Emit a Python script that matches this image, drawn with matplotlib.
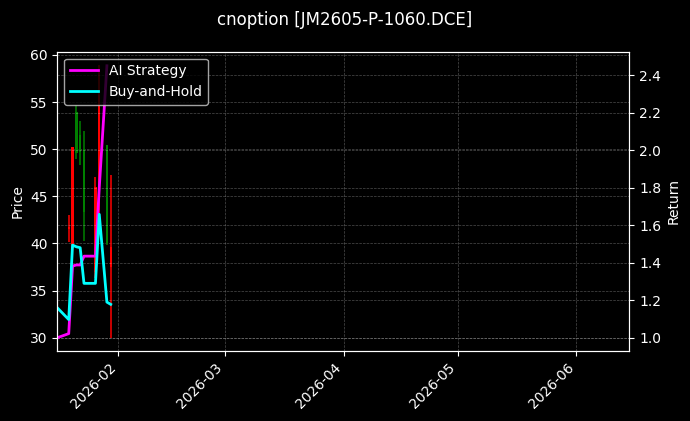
import numpy as np
import pandas as pd
import matplotlib
matplotlib.use("Agg")
import matplotlib.pyplot as plt
import matplotlib.dates as mdates

nan = np.nan
dates = ['2026-01-16', '2026-01-19', '2026-01-20', '2026-01-21', '2026-01-22',
         '2026-01-23', '2026-01-26', '2026-01-27', '2026-01-29', '2026-01-30']
open_ = [nan, 41.5, 39.8, 54.0, 51.5, 50.0, 37.0, 43.5, 50.4, 37.5]
high = [nan, 43.0, 50.2, 54.7, 53.0, 51.9, 47.0, 58.9, 50.4, 47.3]
low = [nan, 40.2, 39.5, 49.0, 48.3, 40.3, 36.3, 43.0, 39.8, 30.0]
close = [nan, 41.7, 50.2, 49.6, 49.7, 43.3, 46.0, 55.8, 40.0, 39.6]
strategy = [1.0, 1.022, 1.382, 1.388, 1.388, 1.435, 1.435, 1.80, 2.45, nan]
buy_hold = [1.16, 1.097, 1.494, 1.485, 1.48, 1.29, 1.29, 1.658, 1.19, 1.178]
x_range = ['2026-01-16', '2026-06-14 20:00']
title = 'cnoption [JM2605-P-1060.DCE]'

plt.style.use('dark_background')
d = pd.to_datetime(dates)
o = np.array(open_); h = np.array(high); l = np.array(low); c = np.array(close)
up = c >= o
colors = np.where(up, 'red', 'green')

fig = plt.figure(figsize=(6.9, 4.21), dpi=100)
ax = fig.add_axes([0.0830, 0.1670, 0.8290, 0.7102])

ax.vlines(d, l, h, colors=colors, linewidth=1.1, zorder=2)
ax.bar(d, np.abs(c - o), bottom=np.minimum(o, c), width=0.6, color=colors, zorder=2)
ax.set_ylabel('Price')
ax.set_ylim(28.62, 60.35)
ax.grid(True, linestyle='--', linewidth=0.5, alpha=0.3)

ax2 = ax.twinx()
ax2.plot(d, strategy, color='magenta', linewidth=2, label='AI Strategy')
ax2.plot(d, buy_hold, color='cyan', linewidth=2, label='Buy-and-Hold')
ax2.set_ylabel('Return')
ax2.set_ylim(0.931, 2.525)
ax2.grid(True, linestyle='--', linewidth=0.5, alpha=0.3)
ax2.legend(loc='upper left')

ax.set_xlim(pd.to_datetime(x_range[0]), pd.to_datetime(x_range[1]))
ax.xaxis.set_major_locator(mdates.MonthLocator())
ax.xaxis.set_major_formatter(mdates.DateFormatter('%Y-%m'))
for lab in ax.get_xticklabels():
    lab.set_rotation(45)
    lab.set_ha('right')

fig.suptitle(title, fontsize=12, y=0.975)
fig.savefig('out.png', dpi=100)
